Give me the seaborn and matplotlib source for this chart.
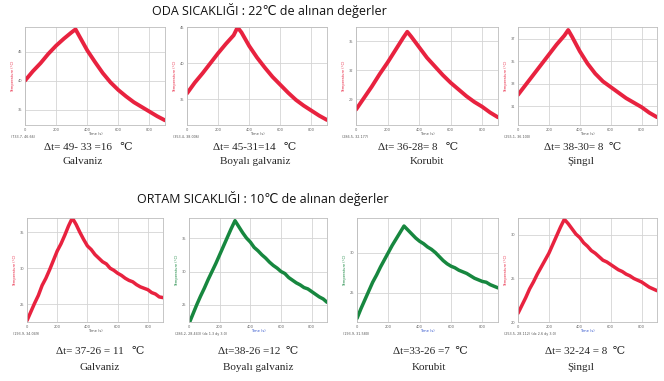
import matplotlib
matplotlib.use("Agg")
import matplotlib.pyplot as plt
import seaborn as sns
import pandas as pd

sns.set_theme(style="whitegrid")

# ---------------- data ----------------
time_top = [0, 50, 100, 150, 200, 250, 300, 325, 350, 400, 450, 500, 550, 600,
            650, 700, 750, 800, 850, 900]
galv_22 = [40.0, 41.6, 43.0, 44.6, 46.0, 47.2, 48.3, 48.8, 47.6, 45.2, 43.2, 41.3,
           39.7, 38.4, 37.3, 36.3, 35.5, 34.7, 33.9, 33.2]
boya_22 = [35.8, 37.3, 38.6, 40.0, 41.4, 42.7, 43.9, 45.0, 44.3, 42.4, 40.8, 39.4,
           38.1, 37.0, 35.9, 34.9, 34.1, 33.4, 32.7, 32.1]
koru_22 = [27.9, 29.1, 30.3, 31.6, 32.8, 34.1, 35.4, 36.0, 35.5, 34.4, 33.3, 32.4,
           31.5, 30.7, 30.0, 29.3, 28.7, 28.2, 27.6, 27.1]
sing_22 = [32.0, 32.9, 33.8, 34.7, 35.6, 36.5, 37.3, 37.8, 37.2, 35.9, 34.8, 33.9,
           33.2, 32.7, 32.2, 31.7, 31.3, 30.9, 30.4, 30.0]

time_bot = [0, 25, 50, 75, 100, 125, 150, 175, 200, 225, 250, 275, 300, 325, 350,
            375, 400, 425, 450, 475, 500, 525, 550, 575, 600, 625, 650, 675, 700,
            725, 750, 775, 800, 825, 850, 875, 900]
galv_10 = [22.7, 23.9, 25.1, 26.2, 27.6, 28.6, 29.8, 31.1, 32.4, 33.4, 34.6, 35.9,
           37.0, 36.1, 35.0, 34.0, 33.1, 32.6, 31.9, 31.4, 30.9, 30.6, 30.0, 29.7,
           29.3, 29.0, 28.6, 28.3, 28.1, 27.7, 27.4, 27.2, 27.0, 26.6, 26.4, 26.0,
           25.9]
boya_10 = [22.2, 23.6, 25.0, 26.3, 27.5, 28.8, 30.0, 31.2, 32.5, 33.8, 35.1, 36.4,
           37.6, 36.7, 35.8, 35.0, 34.4, 33.6, 33.1, 32.5, 32.0, 31.4, 30.9, 30.5,
           30.0, 29.7, 29.1, 28.7, 28.3, 28.0, 27.6, 27.4, 27.0, 26.6, 26.2, 25.9,
           25.4]
koru_10 = [21.8, 23.0, 24.1, 25.2, 26.3, 27.2, 28.2, 29.1, 30.0, 30.9, 31.7, 32.5,
           33.3, 32.8, 32.3, 31.8, 31.4, 31.1, 30.7, 30.4, 30.0, 29.5, 29.0, 28.6,
           28.3, 28.1, 27.8, 27.6, 27.4, 27.1, 26.8, 26.6, 26.4, 26.3, 26.0, 25.8,
           25.6]
sing_10 = [21.0, 21.9, 22.8, 23.8, 24.6, 25.5, 26.3, 27.1, 27.9, 28.9, 29.9, 30.9,
           31.8, 31.3, 30.7, 30.1, 29.7, 29.1, 28.7, 28.2, 27.9, 27.5, 27.1, 26.9,
           26.6, 26.3, 26.0, 25.8, 25.5, 25.3, 25.0, 24.8, 24.6, 24.3, 24.0, 23.8,
           23.6]

titles = ["ODA SICAKLIĞI : 22℃ de alınan değerler",
          "ORTAM SICAKLIĞI : 10℃ de alınan değerler"]
delta_top = ["Δt= 49- 33 =16   ℃", "Δt= 45-31=14   ℃", "Δt= 36-28= 8   ℃", "Δt= 38-30= 8  ℃"]
delta_bot = ["Δt= 37-26 = 11   ℃", "Δt=38-26 =12  ℃", "Δt=33-26 =7  ℃", "Δt= 32-24 = 8  ℃"]
names = ["Galvaniz", "Boyalı galvaniz", "Korubit", "Şingıl"]
coords_top = ["(733.7, 46.66)", "(353.4, 38.006)", "(286.5, 32.177)", "(255.1, 36.100)"]
coords_bot = ["(193.9, 34.049)", "(286.2, 28.443) (dx 1.3 dy 3.0)", "(193.9, 31.580)",
              "(253.5, 28.112) (dx 2.6 dy 3.0)"]

# ---------------- layout ----------------
W, H = 664, 381
fig = plt.figure(figsize=(W / 100, H / 100), dpi=100)
fig.patch.set_facecolor("white")

RED = "#e8223f"
GREEN = "#17873f"


def rect(l, t, r, b):
    return [l / W, 1 - b / H, (r - l) / W, (b - t) / H]


top_x = [(25, 165), (187, 327), (356, 498), (518, 657)]
bot_x = [(27, 163), (189, 327), (357, 498), (518, 657)]
top_series = [galv_22, boya_22, koru_22, sing_22]
bot_series = [galv_10, boya_10, koru_10, sing_10]
top_ylim = [(32.4, 49.2), (31.4, 45.05), (26.3, 36.5), (29.3, 38.07)]
bot_ylim = [(22.5, 37.0), (22.45, 38.0), (21.35, 34.3), (20.5, 31.95)]
top_yticks = [[35, 40, 45], [35, 40, 45], [29, 32, 35], [31, 33, 35, 37]]
bot_yticks = [[25, 30, 35], [25, 30, 35], [25, 30], [20, 25, 30]]
bot_colors = [RED, GREEN, GREEN, RED]
top_cx = [88, 255, 418, 583]
top_nx = [83, 255, 427, 581]
bot_cx = [100, 258, 430, 585]
bot_nx = [100, 258, 429, 581]


def draw_panel(box, times, vals, color, ylim, yticks, coord, blue_xlabel, lw):
    ax = fig.add_axes(box)
    df = pd.DataFrame({"t": times, "v": vals})
    sns.lineplot(data=df, x="t", y="v", ax=ax, color=color, linewidth=lw,
                 solid_joinstyle="round", solid_capstyle="round")
    ax.set_xlim(0, 900)
    ax.set_ylim(*ylim)
    ax.set_xticks([0, 200, 400, 600, 800])
    ax.set_yticks(yticks)
    ax.set_facecolor("white")
    ax.grid(True, color="#d4d4d4", linewidth=0.6)
    for s in ax.spines.values():
        s.set_color("#bdbdbd")
        s.set_linewidth(0.6)
    ax.tick_params(labelsize=2.6, colors="#666666", length=1, pad=1)
    ax.set_xlabel("Time (s)", fontsize=2.6, labelpad=0.5,
                  color="#3355cc" if blue_xlabel else "#555555")
    ax.set_ylabel("Temperature (°C)", fontsize=2.6, color=color, labelpad=2)
    ax.text(-0.1, -0.1, coord, transform=ax.transAxes, fontsize=2.4,
            color="#555555", ha="left", va="top")
    return ax


for i in range(4):
    l, r = top_x[i]
    draw_panel(rect(l, 27, r, 125), time_top, top_series[i], RED,
               top_ylim[i], top_yticks[i], coords_top[i], False, 2.8)
    l, r = bot_x[i]
    draw_panel(rect(l, 218, r, 322), time_bot, bot_series[i], bot_colors[i],
               bot_ylim[i], bot_yticks[i], coords_bot[i],
               bot_colors[i] == GREEN or i == 3, 2.5)

title_font = ["Open Sans", "DejaVu Sans"]
serif = ["Liberation Serif", "DejaVu Serif"]
fig.text(269 / W, 1 - 11 / H, titles[0], fontsize=9.0, family=title_font,
         ha="center", va="center", color="#111111")
fig.text(263 / W, 1 - 198 / H, titles[1], fontsize=9.0, family=title_font,
         ha="center", va="center", color="#111111")

for i in range(4):
    fig.text(top_cx[i] / W, 1 - 147 / H, delta_top[i], fontsize=8, family=serif,
             ha="center", va="center")
    fig.text(top_nx[i] / W, 1 - 161 / H, names[i], fontsize=8, family=serif,
             ha="center", va="center")
    fig.text(bot_cx[i] / W, 1 - 352 / H, delta_bot[i], fontsize=8, family=serif,
             ha="center", va="center")
    fig.text(bot_nx[i] / W, 1 - 367 / H, names[i], fontsize=8, family=serif,
             ha="center", va="center")

fig.savefig("out.png", dpi=100)
